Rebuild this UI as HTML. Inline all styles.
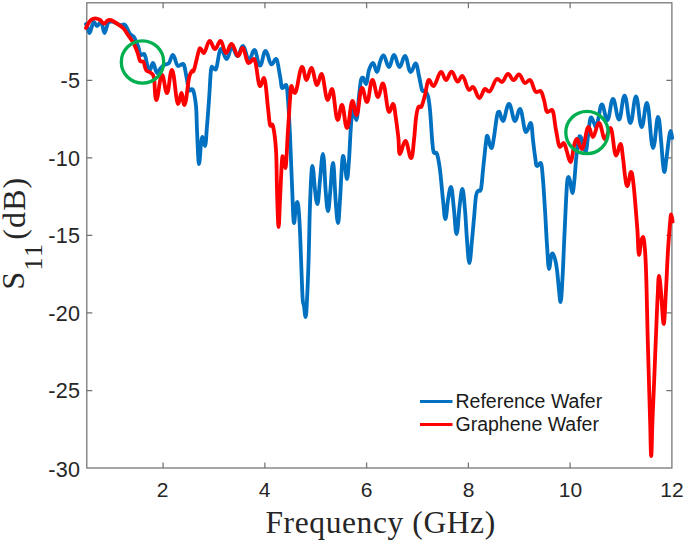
<!DOCTYPE html>
<html><head><meta charset="utf-8"><title>S11 vs Frequency</title>
<style>
html,body{margin:0;padding:0;background:#fff;overflow:hidden;}
html{width:685px;height:542px;}
body{width:685px;height:542px;overflow:hidden;position:relative;font-family:"Liberation Sans",sans-serif;}
svg{position:absolute;left:0;top:0;}
.t{position:absolute;color:#262626;font-size:21px;line-height:1;white-space:nowrap;}
.yt{text-align:right;width:60px;left:20.1px;font-size:21.6px;letter-spacing:0.2px;}
.xt{text-align:center;width:40px;}
.lg{position:absolute;color:#1a1a1a;font-size:19.5px;line-height:1;white-space:nowrap;left:455.5px;}
.rot{left:0;top:0;transform-origin:0 0;}
.ser{font-family:"Liberation Serif",serif;color:#262626;position:absolute;line-height:1;white-space:nowrap;}
</style></head><body>
<svg width="685" height="542" viewBox="0 0 685 542">
<rect x="0" y="0" width="685" height="542" fill="#fff"/>
<g stroke="#727272" stroke-width="1.25" fill="none">
<rect x="86.8" y="2.8" width="585.1" height="465.2"/>
<path d="M163.1 468v-5.5M264.9 468v-5.5M366.6 468v-5.5M468.4 468v-5.5M570.1 468v-5.5"/>
<path d="M163.1 2.8v5.5M264.9 2.8v5.5M366.6 2.8v5.5M468.4 2.8v5.5M570.1 2.8v5.5"/>
<path d="M86.8 80.3h5.5M86.8 157.9h5.5M86.8 235.4h5.5M86.8 312.9h5.5M86.8 390.5h5.5"/>
<path d="M671.9 80.3h-5.5M671.9 157.9h-5.5M671.9 235.4h-5.5M671.9 312.9h-5.5M671.9 390.5h-5.5"/>
</g>
<g fill="none" stroke-linejoin="round" stroke-linecap="round" stroke-width="3.8">
<path stroke="#0070c0" d="M86.0 24.0C86.3 24.8 87.4 27.5 88.0 29.0C88.6 30.5 88.8 33.0 89.6 33.0C90.4 33.0 91.3 27.8 92.0 26.0C92.7 24.2 93.0 22.0 94.0 22.0C95.0 22.0 95.8 26.0 97.0 26.0C98.2 26.0 99.0 23.0 100.0 23.0C101.0 23.0 101.2 22.3 102.0 24.0C102.8 25.7 103.3 33.0 104.6 33.0C105.8 33.0 106.8 24.9 108.0 23.0C109.2 21.1 109.5 21.6 112.0 21.6C114.5 21.6 117.8 24.4 120.0 25.0C122.2 25.6 123.3 23.5 125.0 25.0C126.7 26.5 128.5 32.0 130.0 34.0C131.5 36.0 132.7 35.0 134.0 37.0C135.3 39.0 136.8 43.0 138.0 46.0C139.2 49.0 139.8 55.0 141.0 55.0C142.2 55.0 142.5 54.0 144.0 54.0C145.5 54.0 147.0 65.3 148.0 68.0C149.0 70.7 149.0 70.0 150.0 70.0C151.0 70.0 151.5 63.0 153.0 63.0C154.5 63.0 155.5 73.0 157.0 73.0C158.5 73.0 158.8 70.3 160.0 69.0C161.2 67.7 162.5 66.0 164.0 65.0C165.5 64.0 167.5 64.7 169.0 63.0C170.5 61.3 171.1 55.0 173.0 55.0C174.9 55.0 175.9 66.0 178.0 66.0C180.1 66.0 181.2 64.0 183.0 64.0C184.8 64.0 185.5 72.7 186.5 77.0C187.5 81.3 187.9 87.8 189.0 90.0C190.1 92.2 191.8 87.3 193.0 90.0C194.2 92.7 195.3 99.3 196.0 106.0C196.7 112.7 196.5 120.3 197.0 130.0C197.5 139.7 198.2 164.0 199.0 164.0C199.8 164.0 200.4 148.5 201.0 144.0C201.6 139.5 201.6 137.0 202.4 137.0C203.2 137.0 204.0 146.0 205.0 146.0C206.0 146.0 206.3 133.7 207.0 126.0C207.7 118.3 208.3 109.3 209.0 100.0C209.7 90.7 210.3 75.4 211.0 70.0C211.7 64.6 212.0 67.6 213.0 67.6C214.0 67.6 213.9 69.6 215.6 69.6C217.3 69.6 218.7 49.0 221.0 49.0C223.3 49.0 224.3 59.0 226.6 59.0C228.9 59.0 229.8 47.0 232.0 47.0C234.2 47.0 235.1 56.0 237.4 56.0C239.7 56.0 240.6 46.0 243.0 46.0C245.4 46.0 246.6 60.0 249.0 60.0C251.4 60.0 252.1 50.0 254.4 50.0C256.7 50.0 257.7 65.6 260.0 65.6C262.3 65.6 263.2 51.0 265.6 51.0C268.0 51.0 269.2 64.4 271.4 64.4C273.6 64.4 274.2 59.0 276.0 59.0C277.8 59.0 278.9 71.2 280.0 76.0C281.1 80.8 281.1 88.0 282.4 88.0C283.6 88.0 284.8 85.0 286.0 85.0C287.2 85.0 287.3 91.7 288.0 100.0C288.7 108.3 289.3 120.8 290.0 135.0C290.7 149.2 291.3 170.3 292.0 185.0C292.7 199.7 293.2 223.0 294.0 223.0C294.8 223.0 295.0 211.5 295.6 208.0C296.2 204.5 296.6 202.0 297.4 202.0C298.2 202.0 298.8 210.7 299.4 220.0C300.0 229.3 300.5 245.0 301.0 258.0C301.5 271.0 302.1 290.0 302.6 298.0C303.1 306.0 303.5 302.8 304.0 306.0C304.5 309.2 305.0 317.0 305.6 317.0C306.2 317.0 306.5 309.5 307.0 300.0C307.5 290.5 308.1 275.8 308.6 260.0C309.1 244.2 309.4 220.7 310.0 205.0C310.6 189.3 311.4 166.0 312.4 166.0C313.4 166.0 314.2 183.7 315.0 190.0C315.8 196.3 316.4 204.0 317.4 204.0C318.4 204.0 319.1 188.3 320.0 180.0C320.9 171.7 321.8 154.0 323.0 154.0C324.2 154.0 324.8 180.5 325.6 190.0C326.4 199.5 327.0 211.0 328.0 211.0C329.0 211.0 329.6 198.0 330.4 190.0C331.2 182.0 331.9 163.0 333.0 163.0C334.1 163.0 334.8 190.0 335.6 200.0C336.4 210.0 337.1 223.0 338.0 223.0C338.9 223.0 339.2 211.2 340.0 200.0C340.8 188.8 342.0 156.0 343.0 156.0C344.0 156.0 344.3 162.2 345.0 166.0C345.7 169.8 346.2 179.0 347.0 179.0C347.8 179.0 348.3 169.0 349.0 160.0C349.7 151.0 350.3 133.3 351.0 125.0C351.7 116.7 351.9 110.0 353.0 110.0C354.1 110.0 355.1 120.0 356.4 120.0C357.6 120.0 358.2 102.7 359.0 96.0C359.8 89.3 360.3 83.1 361.0 80.0C361.7 76.9 362.0 77.6 363.0 77.6C364.0 77.6 364.8 84.0 366.0 84.0C367.2 84.0 367.8 73.5 369.0 70.0C370.2 66.5 371.3 63.0 373.0 63.0C374.7 63.0 375.5 72.0 377.0 72.0C378.5 72.0 378.9 64.8 380.0 62.0C381.1 59.2 381.7 55.4 383.6 55.4C385.5 55.4 386.8 67.0 389.0 67.0C391.2 67.0 391.8 55.0 394.0 55.0C396.2 55.0 397.3 67.0 399.6 67.0C401.9 67.0 402.7 56.0 405.0 56.0C407.3 56.0 408.4 72.0 410.6 72.0C412.8 72.0 413.9 63.5 415.6 63.5C417.4 63.5 417.9 71.6 419.0 76.0C420.1 80.4 421.0 87.5 422.0 90.0C423.0 92.5 424.0 90.0 425.0 91.0C426.0 92.0 427.2 92.8 428.0 96.0C428.8 99.2 429.3 103.0 430.0 110.0C430.7 117.0 431.4 131.0 432.0 138.0C432.6 145.0 432.8 149.3 433.6 152.0C434.4 154.7 435.9 151.0 437.0 154.0C438.1 157.0 439.0 162.3 440.0 170.0C441.0 177.7 442.1 191.8 443.0 200.0C443.9 208.2 444.4 219.0 445.4 219.0C446.4 219.0 447.1 205.3 448.0 200.0C448.9 194.7 449.8 187.0 451.0 187.0C452.2 187.0 453.1 202.2 454.0 210.0C454.9 217.8 455.4 234.0 456.6 234.0C457.8 234.0 458.6 213.5 459.6 206.0C460.6 198.5 461.3 189.0 462.4 189.0C463.5 189.0 464.2 201.5 465.0 210.0C465.8 218.5 466.3 231.2 467.0 240.0C467.7 248.8 468.4 263.0 469.4 263.0C470.4 263.0 471.2 247.5 472.0 240.0C472.8 232.5 473.3 225.3 474.0 218.0C474.7 210.7 475.3 200.5 476.0 196.0C476.7 191.5 477.2 192.2 478.0 191.0C478.8 189.8 480.2 192.5 481.0 189.0C481.8 185.5 482.2 177.8 483.0 170.0C483.8 162.2 485.3 147.7 486.0 142.0C486.7 136.3 486.6 135.6 487.4 135.6C488.1 135.6 488.9 141.9 489.6 144.0C490.3 146.1 490.7 148.0 491.6 148.0C492.5 148.0 493.1 142.3 494.0 137.0C494.9 131.7 496.1 120.2 497.0 116.0C497.9 111.8 497.9 111.6 499.2 111.6C500.4 111.6 501.0 121.0 503.0 121.0C505.0 121.0 506.5 104.0 509.0 104.0C511.5 104.0 512.7 121.0 515.0 121.0C517.3 121.0 517.7 109.0 520.0 109.0C522.3 109.0 523.8 132.0 526.0 132.0C528.2 132.0 529.1 123.0 530.6 123.0C532.1 123.0 532.3 134.5 533.0 140.0C533.7 145.5 534.3 151.7 535.0 156.0C535.7 160.3 535.8 166.0 537.0 166.0C538.2 166.0 539.4 163.0 540.6 163.0C541.9 163.0 542.3 172.2 543.0 180.0C543.7 187.8 544.3 199.2 545.0 210.0C545.7 220.8 546.3 235.2 547.0 245.0C547.7 254.8 548.2 269.0 549.0 269.0C549.8 269.0 550.4 259.6 551.0 257.0C551.6 254.4 551.7 253.5 552.5 253.5C553.3 253.5 554.2 256.2 555.0 259.0C555.8 261.8 556.3 264.8 557.0 270.0C557.7 275.2 558.4 284.7 559.0 290.0C559.6 295.3 559.9 302.0 560.6 302.0C561.3 302.0 561.8 289.5 562.4 280.0C563.0 270.5 563.5 256.3 564.0 245.0C564.5 233.7 565.0 222.2 565.5 212.0C566.0 201.8 566.5 189.8 567.0 184.0C567.5 178.2 567.9 177.0 568.6 177.0C569.4 177.0 570.0 181.3 570.6 184.0C571.2 186.7 571.6 193.0 572.4 193.0C573.2 193.0 573.7 186.3 574.4 180.0C575.1 173.7 575.7 162.0 576.5 155.0C577.3 148.0 578.4 141.1 579.0 138.0C579.6 134.9 579.6 136.4 580.4 136.4C581.2 136.4 582.1 141.4 583.0 144.0C583.9 146.6 584.6 152.0 585.6 152.0C586.6 152.0 587.3 141.3 588.0 136.0C588.7 130.7 589.4 123.1 590.0 120.0C590.6 116.9 590.6 117.5 591.4 117.5C592.2 117.5 593.2 121.4 594.0 123.0C594.8 124.6 595.1 127.0 596.0 127.0C596.9 127.0 597.5 121.8 598.5 118.0C599.5 114.2 600.1 104.5 602.0 104.5C603.9 104.5 605.1 120.0 607.4 120.0C609.7 120.0 610.6 99.0 613.0 99.0C615.4 99.0 616.6 119.5 619.0 119.5C621.4 119.5 622.2 95.6 624.6 95.6C627.0 95.6 628.0 123.0 630.4 123.0C632.8 123.0 633.7 96.4 636.0 96.4C638.3 96.4 639.3 127.0 641.6 127.0C643.9 127.0 644.6 103.0 647.0 103.0C649.4 103.0 650.7 148.0 653.0 148.0C655.3 148.0 656.3 117.0 658.0 117.0C659.7 117.0 660.2 132.5 661.0 140.0C661.8 147.5 662.2 156.7 662.8 162.0C663.4 167.3 663.7 172.0 664.4 172.0C665.1 172.0 665.5 165.7 666.0 162.0C666.5 158.3 667.0 154.0 667.5 150.0C668.0 146.0 668.5 141.2 669.0 138.0C669.5 134.8 669.9 131.0 670.6 131.0C671.3 131.0 671.9 136.8 672.2 138.0"/>
<path stroke="#ff0000" d="M86.0 28.0C86.4 27.2 87.7 24.3 88.5 23.0C89.3 21.7 89.9 20.8 91.0 20.0C92.1 19.2 93.1 18.4 95.0 18.4C96.9 18.4 98.5 19.1 100.0 20.0C101.5 20.9 102.5 23.6 104.0 23.6C105.5 23.6 106.0 21.6 107.0 21.0C108.0 20.4 108.1 20.0 110.0 20.0C111.9 20.0 113.8 21.7 116.0 23.0C118.2 24.3 121.0 26.0 123.0 28.0C125.0 30.0 126.2 32.3 128.0 35.0C129.8 37.7 132.3 40.8 134.0 44.0C135.7 47.2 137.0 51.2 138.0 54.0C139.0 56.8 139.1 59.7 140.0 61.0C140.9 62.3 142.6 60.5 143.6 62.0C144.6 63.5 144.8 68.2 146.0 70.0C147.2 71.8 149.7 71.7 151.0 73.0C152.3 74.3 153.1 73.5 154.0 78.0C154.9 82.5 154.7 100.0 156.4 100.0C158.1 100.0 159.8 75.0 162.0 75.0C164.2 75.0 164.9 93.0 167.0 93.0C169.1 93.0 169.7 70.0 172.0 70.0C174.3 70.0 176.0 104.0 178.0 104.0C180.0 104.0 180.1 93.0 181.5 93.0C182.9 93.0 182.9 105.0 184.5 105.0C186.1 105.0 187.8 83.7 189.0 78.0C190.2 72.3 191.2 72.3 192.0 71.0C192.8 69.7 192.8 73.5 194.0 70.0C195.2 66.5 197.8 53.5 199.0 50.0C200.2 46.5 200.0 49.0 201.0 49.0C202.0 49.0 202.2 53.0 204.0 53.0C205.8 53.0 207.3 41.0 209.6 41.0C211.9 41.0 212.7 49.0 215.0 49.0C217.3 49.0 218.3 41.0 220.6 41.0C222.9 41.0 223.7 53.0 226.0 53.0C228.3 53.0 229.1 44.0 231.6 44.0C234.1 44.0 235.7 56.0 238.0 56.0C240.3 56.0 240.4 48.0 242.6 48.0C244.8 48.0 246.2 63.0 248.6 63.0C251.0 63.0 251.6 59.0 254.0 59.0C256.4 59.0 257.9 86.0 260.0 86.0C262.1 86.0 262.3 78.0 264.0 78.0C265.7 78.0 267.0 100.2 268.0 108.0C269.0 115.8 269.2 122.0 270.0 125.0C270.8 128.0 272.0 121.8 273.0 126.0C274.0 130.2 275.3 139.3 276.0 150.0C276.7 160.7 276.6 177.2 277.0 190.0C277.4 202.8 278.0 227.0 278.6 227.0C279.2 227.0 279.4 211.2 280.0 200.0C280.6 188.8 281.4 167.0 282.0 160.0C282.6 153.0 282.8 158.0 283.5 158.0C284.2 158.0 284.5 168.0 285.4 168.0C286.3 168.0 287.2 141.3 288.0 130.0C288.8 118.7 289.4 107.3 290.0 100.0C290.6 92.7 290.5 86.0 291.5 86.0C292.5 86.0 292.8 93.0 295.0 93.0C297.2 93.0 299.6 67.0 302.0 67.0C304.4 67.0 304.4 80.0 306.4 80.0C308.4 80.0 309.2 68.0 311.4 68.0C313.6 68.0 314.9 85.0 317.0 85.0C319.1 85.0 319.4 74.0 321.6 74.0C323.8 74.0 325.4 100.0 327.6 100.0C329.8 100.0 329.9 89.0 332.0 89.0C334.1 89.0 335.5 120.0 337.6 120.0C339.7 120.0 340.0 105.0 342.0 105.0C344.0 105.0 344.8 128.0 347.0 128.0C349.2 128.0 350.4 101.0 352.4 101.0C354.4 101.0 354.6 115.0 356.6 115.0C358.6 115.0 359.8 88.0 362.0 88.0C364.2 88.0 364.8 102.0 367.0 102.0C369.2 102.0 370.1 80.0 372.4 80.0C374.7 80.0 375.8 97.0 378.0 97.0C380.2 97.0 380.7 83.5 383.0 83.5C385.3 83.5 386.9 112.0 389.0 112.0C391.1 112.0 391.5 104.0 393.0 104.0C394.5 104.0 395.1 113.3 396.0 119.0C396.9 124.7 397.7 132.2 398.4 138.0C399.1 143.8 398.5 154.0 400.0 154.0C401.5 154.0 403.1 141.0 405.4 141.0C407.7 141.0 409.2 158.0 411.0 158.0C412.8 158.0 413.2 146.7 414.0 140.0C414.8 133.3 415.3 123.5 416.0 118.0C416.7 112.5 417.5 108.9 418.4 107.0C419.3 105.1 420.4 108.5 421.5 106.5C422.6 104.5 423.8 99.4 425.0 95.0C426.2 90.6 427.2 80.0 429.0 80.0C430.8 80.0 431.1 86.0 433.6 86.0C436.1 86.0 438.4 72.0 441.0 72.0C443.6 72.0 443.8 80.0 446.0 80.0C448.2 80.0 449.2 71.6 451.6 71.6C454.0 71.6 455.4 81.6 457.6 81.6C459.9 81.6 460.0 76.0 462.4 76.0C464.8 76.0 466.8 90.0 469.0 90.0C471.2 90.0 470.8 87.0 473.0 87.0C475.2 87.0 476.9 98.0 479.4 98.0C481.9 98.0 482.9 89.0 485.0 89.0C487.1 89.0 486.9 91.6 489.4 91.6C491.9 91.6 494.4 79.0 497.0 79.0C499.6 79.0 499.7 82.0 502.0 82.0C504.3 82.0 505.6 74.0 508.0 74.0C510.4 74.0 511.3 80.0 513.6 80.0C515.9 80.0 516.6 74.4 519.0 74.4C521.4 74.4 522.7 83.0 525.0 83.0C527.3 83.0 527.7 80.0 530.0 80.0C532.3 80.0 533.8 92.0 536.0 92.0C538.2 92.0 538.7 91.0 540.4 91.0C542.1 91.0 542.8 96.5 544.0 100.0C545.2 103.5 545.7 112.0 547.4 112.0C549.1 112.0 550.2 110.0 552.0 110.0C553.8 110.0 554.7 123.8 556.0 130.0C557.3 136.2 558.4 147.0 560.0 147.0C561.6 147.0 562.1 143.0 563.6 143.0C565.1 143.0 565.9 148.8 567.0 152.0C568.1 155.2 569.0 162.0 570.5 162.0C572.0 162.0 572.9 149.8 574.0 146.0C575.1 142.2 575.3 139.0 577.0 139.0C578.7 139.0 579.6 149.0 582.0 149.0C584.4 149.0 586.1 127.0 588.4 127.0C590.7 127.0 590.8 137.0 593.0 137.0C595.2 137.0 596.5 123.0 599.0 123.0C601.5 123.0 602.6 139.0 605.0 139.0C607.4 139.0 608.2 128.0 610.5 128.0C612.8 128.0 613.9 155.5 616.0 155.5C618.1 155.5 618.9 144.0 620.4 144.0C621.9 144.0 622.2 152.7 623.0 158.0C623.8 163.3 624.3 171.3 625.0 176.0C625.7 180.7 626.1 186.0 627.4 186.0C628.6 186.0 629.8 172.0 631.0 172.0C632.2 172.0 632.3 175.3 633.0 180.0C633.7 184.7 634.3 191.7 635.0 200.0C635.7 208.3 636.7 220.8 637.4 230.0C638.1 239.2 638.2 255.0 639.0 255.0C639.8 255.0 640.3 245.0 641.0 242.0C641.7 239.0 642.2 237.0 643.0 237.0C643.8 237.0 644.4 242.5 645.0 250.0C645.6 257.5 646.0 268.7 646.4 282.0C646.8 295.3 647.1 313.7 647.5 330.0C647.9 346.3 648.5 365.0 648.9 380.0C649.3 395.0 649.7 407.3 650.1 420.0C650.5 432.7 650.7 456.0 651.2 456.0C651.7 456.0 652.0 432.7 652.5 420.0C653.0 407.3 653.6 395.0 654.2 380.0C654.8 365.0 655.6 344.2 656.2 330.0C656.8 315.8 657.2 304.0 657.7 295.0C658.2 286.0 658.3 276.0 659.0 276.0C659.7 276.0 660.4 286.0 661.0 292.0C661.6 298.0 661.9 306.7 662.4 312.0C662.9 317.3 663.0 324.0 663.8 324.0C664.5 324.0 665.3 302.3 666.0 290.0C666.7 277.7 667.3 261.0 668.0 250.0C668.7 239.0 669.5 229.9 670.0 224.0C670.5 218.1 670.7 214.5 671.2 214.5C671.7 214.5 672.4 220.3 672.6 221.5"/>
</g>
<g fill="none" stroke="#00b050" stroke-width="3.3">
<circle cx="142.5" cy="62" r="21.2"/>
<circle cx="587" cy="132.5" r="21.2"/>
</g>
<g fill="none" stroke-width="3" stroke-linecap="butt">
<path stroke="#0070c0" d="M420 401.4H452.5"/>
<path stroke="#ff0000" d="M420 424.6H452.5"/>
</g>
</svg>
<div class="t yt" style="top:70.3px">-5</div>
<div class="t yt" style="top:148.3px">-10</div>
<div class="t yt" style="top:225.3px">-15</div>
<div class="t yt" style="top:303.3px">-20</div>
<div class="t yt" style="top:380.3px">-25</div>
<div class="t yt" style="top:459.3px">-30</div>
<div class="t xt" style="left:142.5px;top:479px">2</div>
<div class="t xt" style="left:244.5px;top:479px">4</div>
<div class="t xt" style="left:346.5px;top:479px">6</div>
<div class="t xt" style="left:448.5px;top:479px">8</div>
<div class="t xt" style="left:550.5px;top:479px">10</div>
<div class="t xt" style="left:652px;top:479px">12</div>
<div class="lg" style="top:392.3px">Reference Wafer</div>
<div class="lg" style="top:415px">Graphene Wafer</div>
<div class="ser" id="xl" style="font-size:31.5px;letter-spacing:0.6px;left:265.5px;top:506.5px;">Frequency (GHz)</div>
<div class="ser rot" style="font-size:32.3px;transform:translate(-3px,289.8px) rotate(-90deg);">S</div>
<div class="ser rot" style="font-size:26px;transform:translate(20.5px,270.5px) rotate(-90deg);letter-spacing:1.4px;">11</div>
<div class="ser rot" style="font-size:32px;transform:translate(-2.5px,239.7px) rotate(-90deg);letter-spacing:1.1px;">(dB)</div>
</body></html>
